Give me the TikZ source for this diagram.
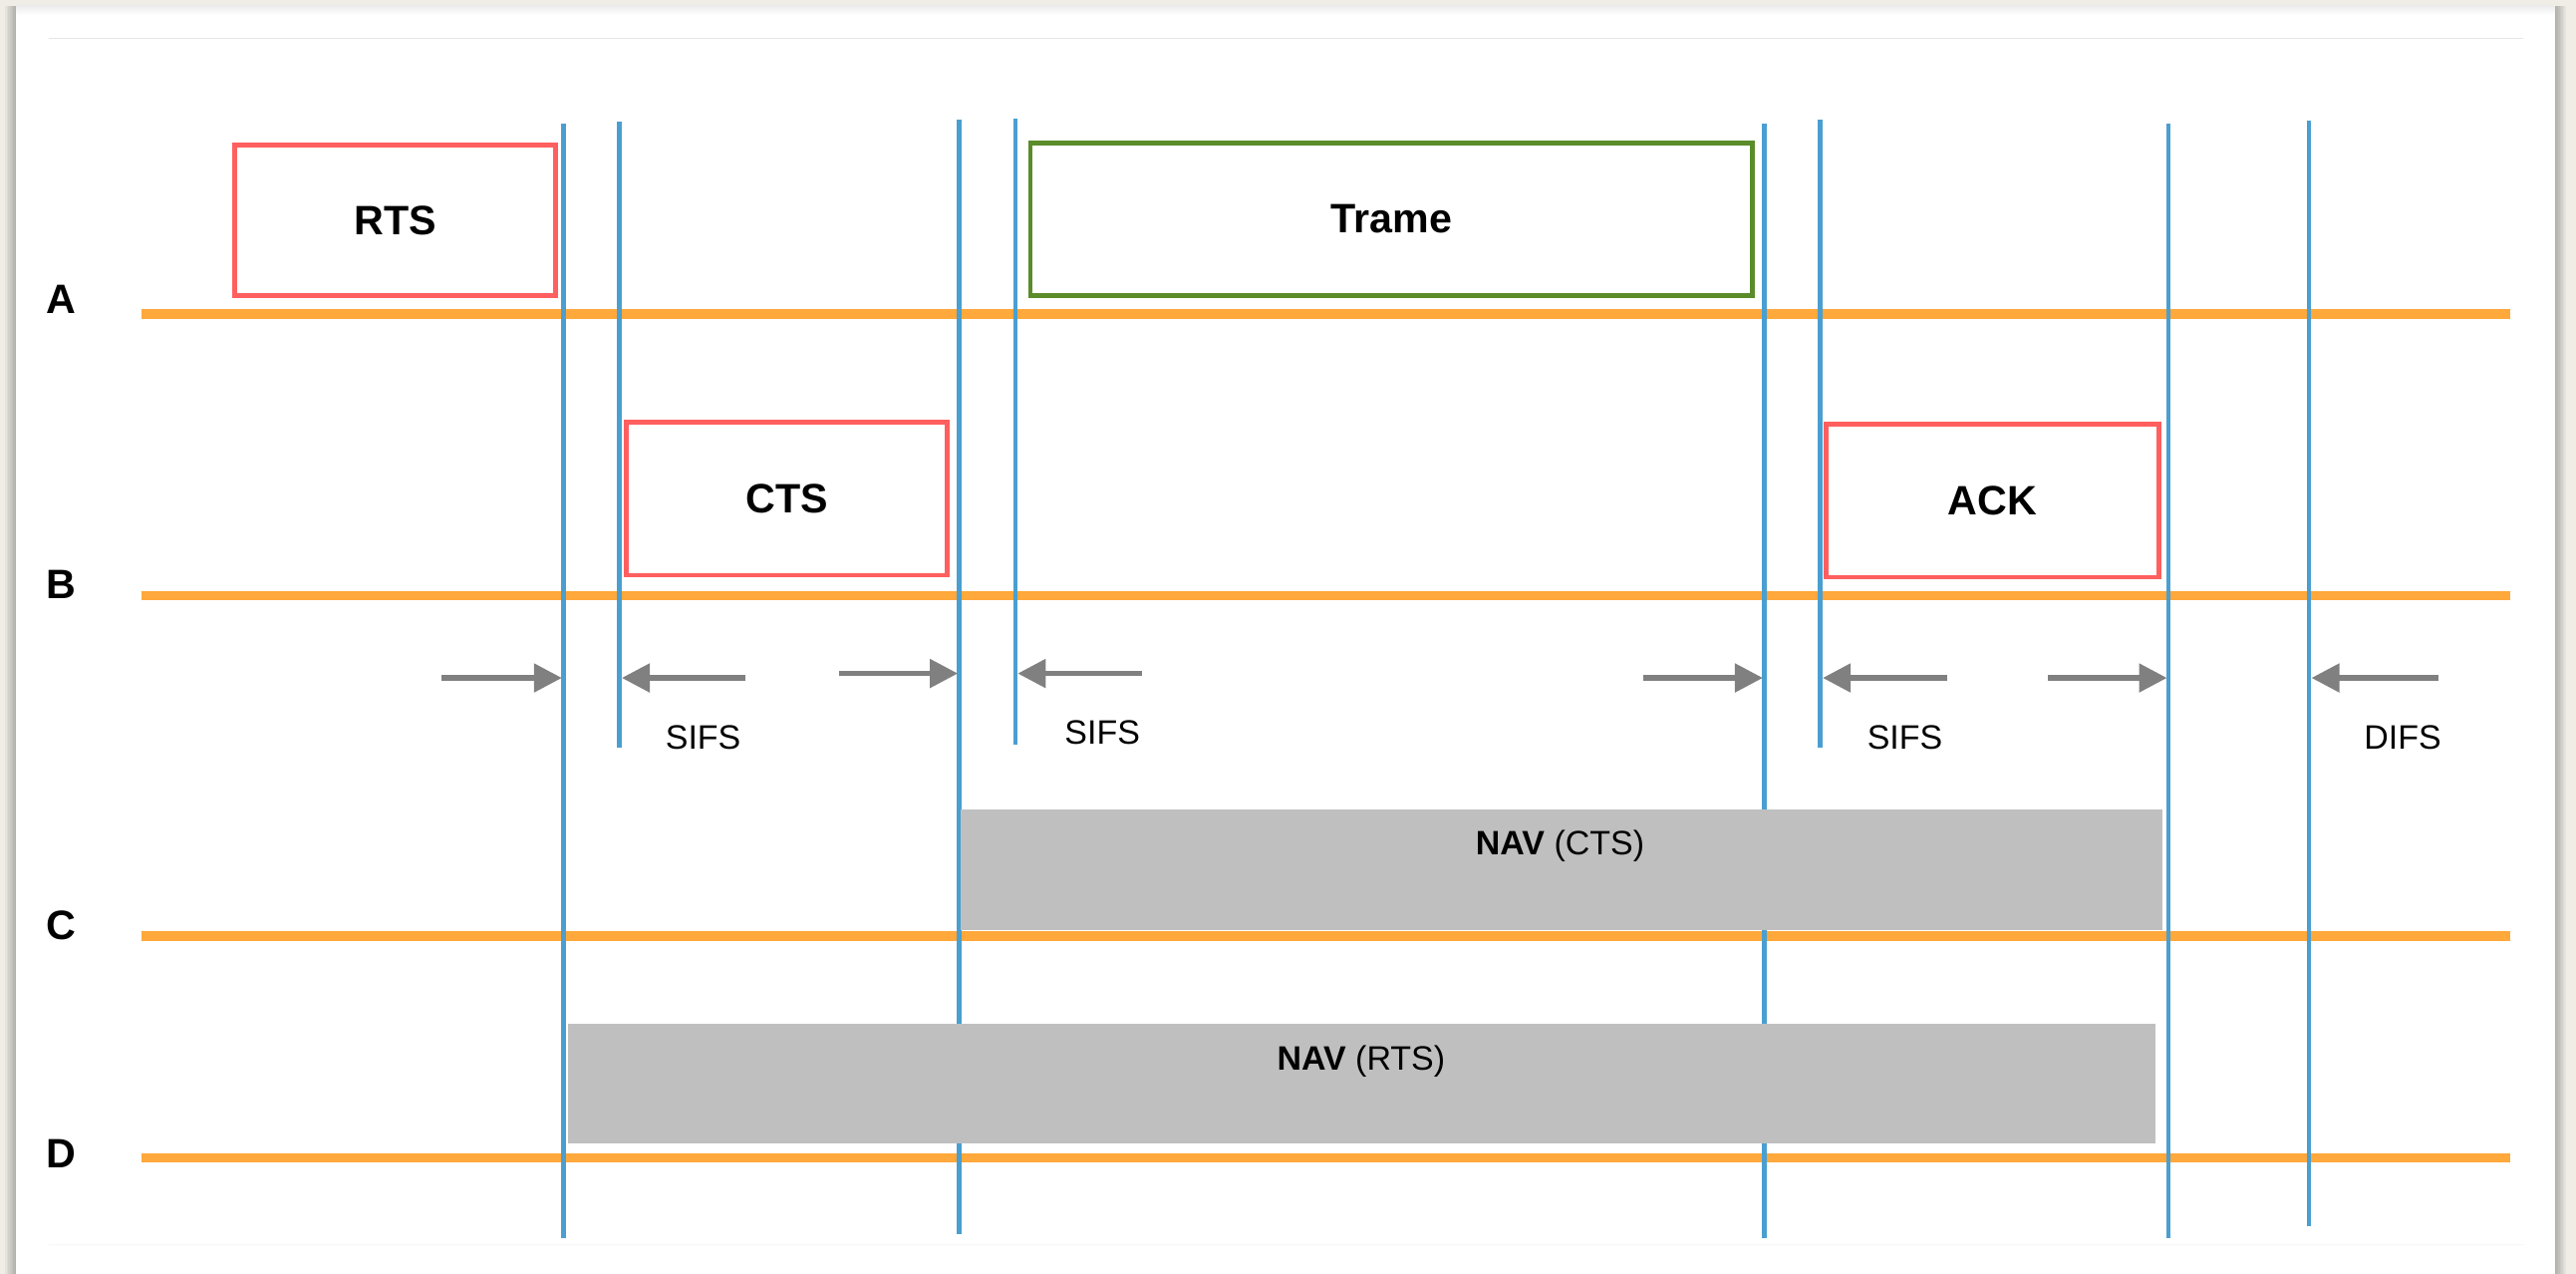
\documentclass[tikz,border=0pt]{standalone}
\usepackage{fontspec}
\setmainfont{Liberation Sans}
\usetikzlibrary{arrows.meta}

\definecolor{pagebg}{RGB}{240,237,231}
\definecolor{laneorange}{RGB}{255,168,59}
\definecolor{tickblue}{RGB}{74,159,208}
\definecolor{ctlred}{RGB}{255,95,95}
\definecolor{datagreen}{RGB}{91,140,42}
\definecolor{navgray}{RGB}{191,191,191}
\definecolor{gapgray}{RGB}{128,128,128}
\definecolor{rulegray}{RGB}{229,229,229}

\newcommand\lblbig{\bfseries\fontsize{12.5pt}{15pt}\selectfont}
\newcommand\lblsmall{\fontsize{10.3pt}{12.5pt}\selectfont}

\tikzset{
  lane/.style={draw=laneorange, line width=2.9pt},
  tick/.style={draw=tickblue, line width=1.4pt},
  framebox/.style={draw, line width=1.5pt, fill=white, inner sep=0pt, font=\lblbig},
  ctlbox/.style={framebox, draw=ctlred},
  databox/.style={framebox, draw=datagreen},
  navbox/.style={fill=navgray, draw=none, inner sep=0pt},
  gaparrow/.style={draw=gapgray, line width=1.6pt, -{Triangle[length=8.5pt,width=8.5pt]}},
  station/.style={font=\lblbig, anchor=base, inner sep=0pt},
  gaplabel/.style={font=\lblsmall, anchor=base, inner sep=0pt},
}

\begin{document}
\begin{tikzpicture}[x=0.5pt, y=-0.5pt]
  \useasboundingbox (0,0) rectangle (1568,775);

  % page and card with a soft side shadow
  \fill[pagebg] (0,0) rectangle (1568,775);
  \foreach \i in {1,...,7}
    \fill[black, opacity=0.04] (10-\i,3.6) rectangle (1555+\i,790);
  \fill[white] (10,3.6) rectangle (1555,790);
  \shade[top color=black!7, bottom color=white] (10,3.6) rectangle (1555,9);

  % header and footer rules
  \draw[rulegray, line width=0.4pt] (30,23.5) -- (1536,23.5);
  \draw[black!3, line width=0.4pt] (30,757.5) -- (1536,757.5);

  % station time lines
  \foreach \name/\y in {A/191, B/362.5, C/569.5, D/704.5} {
    \coordinate (\name-start) at (86,\y);
    \coordinate (\name-end) at (1528,\y);
  }
  \foreach \name in {A,B,C,D}
    \draw[lane] (\name-start) -- (\name-end);

  % station names
  \node[station] (lblA) at (37.5,190.5) {A};
  \node[station] (lblB) at (37.5,364) {B};
  \node[station] (lblC) at (37.5,571.5) {C};
  \node[station] (lblD) at (37.5,710.7) {D};

  % time markers
  \foreach \n/\x/\ytop/\ybot in {1/343/75/753.5, 2/377/74/455, 3/584/73/751,
      4/618/72/453, 5/1074/75/753.5, 6/1108/73/455, 7/1320/75/753.5, 8/1405.5/73.5/746} {
    \coordinate (top\n) at (\x,\ytop);
    \coordinate (bot\n) at (\x,\ybot);
  }
  \foreach \n in {1,...,8}
    \draw[tick] (top\n) -- (bot\n);

  % network allocation vectors
  \node[navbox, minimum width=365.5pt, minimum height=36.6pt] (navcts) at (950.5,529.1) {};
  \node[navbox, minimum width=483pt, minimum height=36.5pt] (navrts) at (829,659.5) {};
  \node[gaplabel] (navctslbl) at (949.6,520.4) {\textbf{NAV} (CTS)};
  \node[gaplabel] (navrtslbl) at (828.5,651) {\textbf{NAV} (RTS)};

  % frames
  \node[ctlbox, minimum width=97.6pt, minimum height=46pt] (rts) at (240.7,134) {RTS};
  \node[databox, minimum width=219.8pt, minimum height=46.5pt] (trame) at (847,133.3) {Trame};
  \node[ctlbox, minimum width=97.5pt, minimum height=46.5pt] (cts) at (479,303.5) {CTS};
  \node[ctlbox, minimum width=101.25pt, minimum height=46.6pt] (ack) at (1212.7,304.6) {ACK};

  % inter-frame spaces
  \coordinate (g1s) at (269,412.5);   \coordinate (g1e) at (342,412.5);
  \coordinate (g2s) at (454,412.5);   \coordinate (g2e) at (378.5,412.5);
  \coordinate (g3s) at (511,409.8);   \coordinate (g3e) at (583,409.8);
  \coordinate (g4s) at (695,409.8);   \coordinate (g4e) at (619.5,409.8);
  \coordinate (g5s) at (1000,412.5);  \coordinate (g5e) at (1073,412.5);
  \coordinate (g6s) at (1185,412.5);  \coordinate (g6e) at (1109.5,412.5);
  \coordinate (g7s) at (1246.5,412.5);\coordinate (g7e) at (1319,412.5);
  \coordinate (g8s) at (1484.5,412.5);\coordinate (g8e) at (1407,412.5);
  \foreach \n in {1,...,8}
    \draw[gaparrow] (g\n s) -- (g\n e);

  \node[gaplabel] (sifs1) at (428,456) {SIFS};
  \node[gaplabel] (sifs2) at (671,453) {SIFS};
  \node[gaplabel] (sifs3) at (1159.5,456) {SIFS};
  \node[gaplabel] (difs) at (1462.5,455.6) {DIFS};
\end{tikzpicture}
\end{document}
